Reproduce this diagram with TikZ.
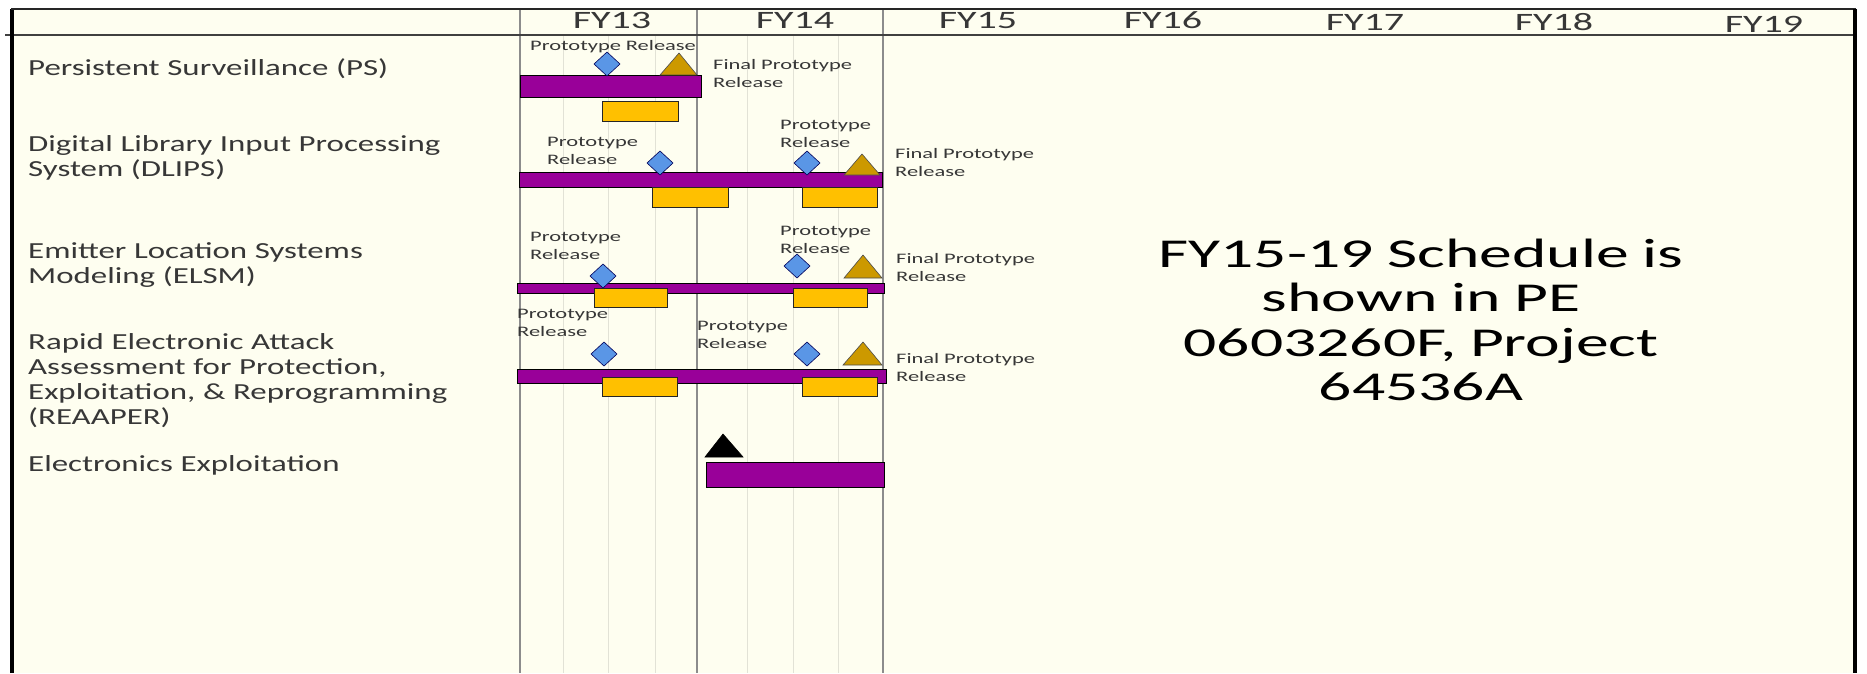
\documentclass[tikz,border=0pt]{standalone}
\usepackage{fontspec}
\setmainfont{Carlito}
\newfontfamily\hdrfont[FakeStretch=1.6]{Carlito}
\newfontfamily\lblfont[FakeStretch=1.43]{Carlito}
\newfontfamily\smlfont[FakeStretch=1.55]{Carlito}
\definecolor{ivory}{RGB}{254,254,240}
\definecolor{barpurple}{RGB}{153,0,153}
\definecolor{bargold}{RGB}{255,192,0}
\definecolor{msblue}{RGB}{90,150,230}
\definecolor{msgold}{RGB}{204,153,0}
\definecolor{txtgray}{RGB}{55,55,55}
\definecolor{gridmain}{RGB}{140,140,140}
\definecolor{gridminor}{RGB}{226,226,214}
\tikzset{
  hdr/.style={font=\hdrfont\fontsize{25}{28}\selectfont, text=txtgray, inner sep=0pt, anchor=base},
  lbl/.style={font=\lblfont\fontsize{23}{25}\selectfont, text=txtgray, inner sep=0pt, anchor=base west, align=left, text width=480pt},
  sml/.style={font=\smlfont\fontsize{14.5}{18}\selectfont, text=txtgray, inner sep=0pt, anchor=base west, align=left, text width=200pt},
  big/.style={font=\hdrfont\fontsize{41}{44.5}\selectfont, text=black, inner sep=0pt, anchor=base, align=center, text width=800pt},
  taskbar/.style={fill=barpurple, draw=black, line width=0.8pt},
  subbar/.style={fill=bargold, draw=black!85, line width=0.8pt},
  msmark/.style={fill=msblue, draw=blue!35!black, line width=0.6pt},
  finmark/.style={fill=msgold, draw=black!70, line width=0.6pt},
  startmark/.style={fill=black, draw=black, line width=0.6pt},
}
\begin{document}
\begin{tikzpicture}[x=1pt,y=-1pt]
\useasboundingbox (0,0) rectangle (1867,673);
\fill[white] (0,0) rectangle (1867,673);
\fill[ivory] (12,9) rectangle (1855,673);
% grid
\foreach \x in {563,608,655,747,793,838} \draw[gridminor, line width=1pt] (\x,35) -- (\x,673);
\foreach \x in {520,697,883} \draw[gridmain, line width=1.3pt] (\x,9) -- (\x,673);
\draw[black!75, line width=1.2pt] (5,35) -- (1855,35);
% frame
\draw[black, line width=3.5pt] (12,673) -- (12,9);
\draw[black!85, line width=2.5pt] (11,9) -- (1856,9);
\draw[black, line width=3.5pt] (1855,9) -- (1855,673);

% header
\node[hdr] (fy13) at (612,28) {FY13};
\node[hdr] (fy14) at (795,28) {FY14};
\node[hdr] (fy15) at (978,28) {FY15};
\node[hdr] (fy16) at (1163,28) {FY16};
\node[hdr] (fy17) at (1365,30) {FY17};
\node[hdr] (fy18) at (1554,30) {FY18};
\node[hdr] (fy19) at (1764,32) {FY19};

% row labels
\node[lbl] (lps) at (28,75) {Persistent Surveillance (PS)};
\node[lbl] (ldl) at (28,151) {Digital Library Input Processing\\System (DLIPS)};
\node[lbl] (lel) at (28,258) {Emitter Location Systems\\Modeling (ELSM)};
\node[lbl] (lre) at (28,349) {Rapid Electronic Attack\\Assessment for Protection,\\Exploitation, \& Reprogramming\\(REAAPER)};
\node[lbl] (lee) at (28,471) {Electronics Exploitation};

% task bars
\draw[taskbar] (520,75) rectangle (701,97);
\draw[taskbar] (519,172) rectangle (882,187);
\draw[taskbar] (517,283) rectangle (884,293);
\draw[taskbar] (517,369) rectangle (886,383);
\draw[taskbar] (706,462) rectangle (884,487);

% sub bars
\draw[subbar] (602,101) rectangle (678,121);
\draw[subbar] (652,187) rectangle (728,207);
\draw[subbar] (802,187) rectangle (877,207);
\draw[subbar] (594,288) rectangle (667,307);
\draw[subbar] (793,288) rectangle (867,307);
\draw[subbar] (602,377) rectangle (677,396);
\draw[subbar] (802,377) rectangle (877,396);

% prototype release diamonds
\foreach \cx/\cy in {607/64, 660/163, 807/163, 603/276, 797/266, 604/354, 807/354}
  \draw[msmark] (\cx,\cy-12) -- (\cx+13,\cy) -- (\cx,\cy+12) -- (\cx-13,\cy) -- cycle;

% final prototype release triangles
\draw[finmark] (660,75) -- (697,75) -- (679,53) -- cycle;
\draw[finmark] (844,175) -- (880,175) -- (862,154) -- cycle;
\draw[finmark] (844,278) -- (882,278) -- (863,255) -- cycle;
\draw[finmark] (843,365) -- (882,365) -- (863,342) -- cycle;
\draw[startmark] (705,457) -- (743,457) -- (723,434) -- cycle;

% milestone texts
\node[sml] (tps1) at (530,50) {Prototype Release};
\node[sml] (tps2) at (713,69) {Final Prototype\\Release};
\node[sml] (tdl1) at (547,146) {Prototype\\Release};
\node[sml] (tdl2) at (780,129) {Prototype\\Release};
\node[sml] (tdl3) at (895,158) {Final Prototype\\Release};
\node[sml] (tel1) at (530,241) {Prototype\\Release};
\node[sml] (tel2) at (780,235) {Prototype\\Release};
\node[sml] (tel3) at (896,263) {Final Prototype\\Release};
\node[sml] (tre1) at (517,318) {Prototype\\Release};
\node[sml] (tre2) at (697,330) {Prototype\\Release};
\node[sml] (tre3) at (896,363) {Final Prototype\\Release};

% note
\node[big] (note) at (1421,267) {FY15-19 Schedule is\\shown in PE\\0603260F, Project\\64536A};
\end{tikzpicture}
\end{document}
